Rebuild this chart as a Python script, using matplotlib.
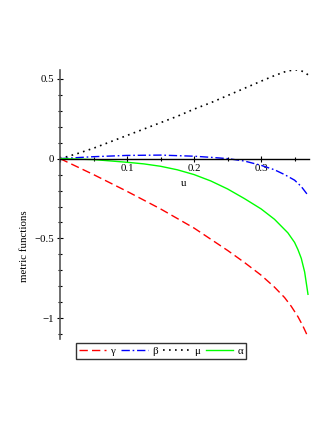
import matplotlib
matplotlib.use("Agg")
import matplotlib.pyplot as plt
from matplotlib.ticker import MultipleLocator, FuncFormatter

plt.rcParams['font.family'] = ['Liberation Serif', 'DejaVu Serif']
plt.rcParams['font.size'] = 7.8

# values
gamma_u = [0, 0.05, 0.1, 0.15, 0.2, 0.25, 0.275, 0.3, 0.32, 0.335, 0.345, 0.355, 0.362, 0.367, 0.37]
gamma = [0, -0.1, -0.205, -0.315, -0.435, -0.575, -0.65, -0.73, -0.805, -0.87, -0.925,
         -0.99, -1.045, -1.09, -1.12]

beta_u = [0, 0.025, 0.05, 0.1, 0.15, 0.2, 0.225, 0.25, 0.275, 0.3, 0.32, 0.335, 0.35, 0.36, 0.37]
beta = [0, 0.006, 0.012, 0.02, 0.022, 0.015, 0.008, 0.0, -0.015, -0.042, -0.07, -0.1, -0.135, -0.175, -0.23]

mu_u = [0, 0.025, 0.05, 0.075, 0.1, 0.125, 0.15, 0.175, 0.2, 0.225, 0.25, 0.275, 0.3,
        0.32, 0.335, 0.345, 0.352, 0.36, 0.365, 0.37]
mu = [0, 0.03, 0.065, 0.105, 0.145, 0.185, 0.225, 0.265, 0.31, 0.35, 0.395, 0.44, 0.485,
      0.52, 0.543, 0.553, 0.556, 0.55, 0.54, 0.525]

alpha_u = [0, 0.05, 0.1, 0.125, 0.15, 0.175, 0.2, 0.225, 0.25, 0.275, 0.3, 0.32, 0.34,
           0.35, 0.355, 0.36, 0.365, 0.37]
alpha = [0, -0.006, -0.023, -0.033, -0.048, -0.07, -0.1, -0.14, -0.19, -0.25, -0.315,
         -0.38, -0.465, -0.525, -0.57, -0.625, -0.71, -0.85]

fig = plt.figure(figsize=(3.32, 4.30), dpi=100)
ax = fig.add_axes([0.1807, 0.2116, 0.749, 0.6256])

ax.plot(gamma_u, gamma, color='#ff0000', lw=1.0, dashes=(6, 3), label='γ')
ax.plot(beta_u, beta, color='#0000ff', lw=1.0, dashes=(6, 2, 1.2, 2), label='β')
ax.plot(mu_u, mu, color='black', lw=1.2, dashes=(1, 2.6), label='μ')
ax.plot(alpha_u, alpha, color='#00ff00', lw=1.0, label='α')

ax.set_xlim(0, 0.371)
ax.set_ylim(-1.13, 0.555)

# axes crossing at the origin, Maple style
ax.spines['left'].set_position(('data', 0))
ax.spines['bottom'].set_position(('data', 0))
ax.spines['top'].set_visible(False)
ax.spines['right'].set_visible(False)
ax.spines['left'].set_color('#555555')
ax.spines['left'].set_linewidth(1.2)
ax.spines['bottom'].set_linewidth(1.0)

ax.xaxis.set_major_locator(MultipleLocator(0.1))
ax.xaxis.set_minor_locator(MultipleLocator(0.05))
ax.yaxis.set_major_locator(MultipleLocator(0.5))
ax.yaxis.set_minor_locator(MultipleLocator(0.1))

def fmt(v, pos):
    if abs(v) < 1e-9:
        return ''
    return ('%g' % round(v, 2)).replace('-', '\u2212')

ax.xaxis.set_major_formatter(FuncFormatter(fmt))
ax.yaxis.set_major_formatter(FuncFormatter(lambda v, p: ('%g' % round(v, 2)).replace('-', '\u2212')))

ax.tick_params(which='both', direction='inout', width=0.8)
ax.tick_params(which='major', length=4, pad=2)
ax.tick_params(which='minor', length=3)

ax.text(0.185, -0.155, 'u', ha='center', va='center')
fig.text(0.075, 0.428, 'metric functions', rotation=90, ha='center', va='center')

leg = fig.legend(loc='center', bbox_to_anchor=(0.485, 0.183), ncol=4, frameon=True,
                 fancybox=False, edgecolor='black', handlelength=2.5, handletextpad=0.4,
                 columnspacing=0.5, borderpad=0.3)
leg.get_frame().set_linewidth(1.0)

fig.savefig('out.png', dpi=100, facecolor='white')
